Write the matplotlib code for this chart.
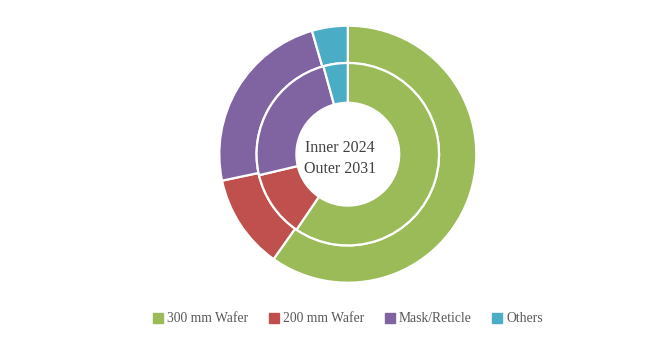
import matplotlib.pyplot as plt
from matplotlib.lines import Line2D

categories = ['300 mm Wafer', '200 mm Wafer', 'Mask/Reticle', 'Others']
inner_2024 = [59.5, 11.8, 24.4, 4.3]
outer_2031 = [59.8, 11.9, 23.8, 4.5]
colors = ['#9BBB59', '#C0504D', '#8064A2', '#4BACC6']

plt.rcParams['font.family'] = ['Liberation Serif', 'DejaVu Serif']

W, H = 650, 358
fig = plt.figure(figsize=(W / 100, H / 100), dpi=100)
cx, cy, r = 347.8, 154.2, 128.5
ax = fig.add_axes([(cx - r) / W, (H - cy - r) / H, 2 * r / W, 2 * r / H])

ax.pie(outer_2031, colors=colors, radius=1.0, startangle=90, counterclock=False,
       wedgeprops=dict(width=0.29, edgecolor='white', linewidth=1.6))
ax.pie(inner_2024, colors=colors, radius=0.71, startangle=90, counterclock=False,
       wedgeprops=dict(width=0.31, edgecolor='white', linewidth=1.6))
ax.set_xlim(-1, 1)
ax.set_ylim(-1, 1)
ax.set_aspect('equal')
ax.axis('off')

# centre label sits a little left of the ring centre in the original
ax.text(-0.063, 0.045, 'Inner 2024', ha='center', va='center', fontsize=11.5, color='#404040')
ax.text(-0.063, -0.115, 'Outer 2031', ha='center', va='center', fontsize=11.5, color='#404040')

handles = [Line2D([], [], marker='s', linestyle='none', markersize=6.5,
                  markerfacecolor=c, markeredgecolor=c) for c in colors]
fig.legend(handles, categories, loc='center', bbox_to_anchor=(348 / W, 1 - 319 / H),
           ncol=4, frameon=False, fontsize=9.8, labelcolor='#595959',
           handlelength=0.7, handletextpad=0.3, columnspacing=1.55)

fig.savefig('out.png', dpi=100)
